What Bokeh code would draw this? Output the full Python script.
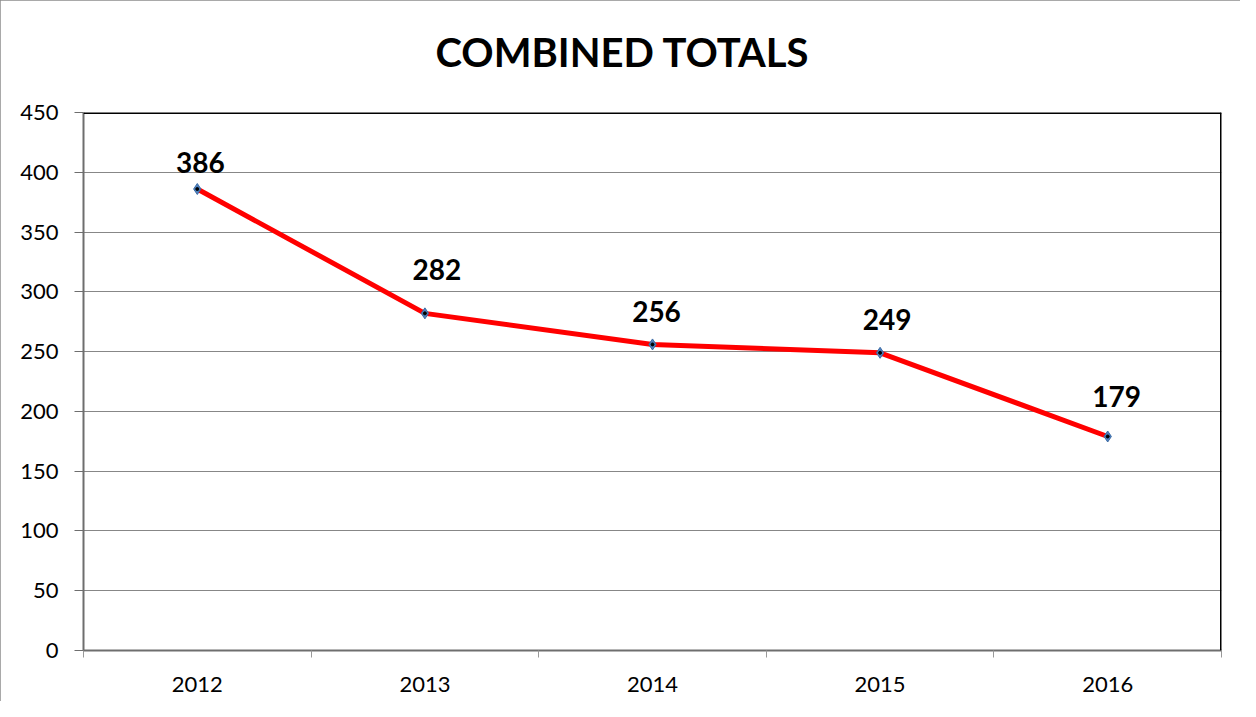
from bokeh.plotting import figure
from bokeh.models import FixedTicker, Span, Title, ColumnDataSource, Range1d
from bokeh.core.properties import value
from bokeh.embed import file_html
from bokeh.resources import INLINE

# ---- data ----
years = ["2012", "2013", "2014", "2015", "2016"]
totals = [386, 282, 256, 249, 179]
y_ticks = [0, 50, 100, 150, 200, 250, 300, 350, 400, 450]
title_text = "COMBINED TOTALS"

# ---- style ----
label_dx = [3, 12, 4, 7, 9]
label_dy = [-27, -44, -33, -33, -40]
FONT = "Lato"
GRID = "#878787"
AXIS = "#6e6e6e"

xs = [i + 0.5 for i in range(len(years))]
src = ColumnDataSource(dict(x=xs, y=totals, lab=[str(v) for v in totals],
                            dx=label_dx, dy=label_dy))

p = figure(width=1240, height=701, output_backend="svg", toolbar_location=None,
           x_range=Range1d(0, len(years)), y_range=Range1d(0, 450),
           min_border_left=83, min_border_right=19, min_border_top=112,
           min_border_bottom=51)
p.outline_line_color = None
p.background_fill_color = "white"
p.border_fill_color = "white"
p.styles = {"outline": "2px solid #8c8c8c", "outline-offset": "-2px"}

p.title = Title(text=title_text, align="left", offset=352, vertical_align="bottom",
                standoff=10, text_font=FONT, text_font_style="bold",
                text_font_size="40px", text_color="black")
# empty spacer between the title and the plot frame
p.add_layout(Title(text=" ", text_font_size="1px", standoff=29), "above")

# grid
p.xgrid.grid_line_color = None
p.ygrid.grid_line_color = GRID
p.ygrid.grid_line_width = 1
p.ygrid.ticker = FixedTicker(ticks=y_ticks)

# y axis
p.yaxis.ticker = FixedTicker(ticks=y_ticks)
p.yaxis.axis_line_color = AXIS
p.yaxis.axis_line_width = 2
p.yaxis.major_tick_line_color = AXIS
p.yaxis.major_tick_out = 9
p.yaxis.major_tick_in = 0
p.yaxis.minor_tick_line_color = None
p.yaxis.major_label_standoff = 16
p.yaxis.major_label_text_font = FONT
p.yaxis.major_label_text_font_size = "22px"
p.yaxis.major_label_text_color = "black"

# x axis
p.xaxis.ticker = FixedTicker(ticks=xs, minor_ticks=list(range(len(years) + 1)))
p.xaxis.major_label_overrides = {x: y for x, y in zip(xs, years)}
p.xaxis.axis_line_color = AXIS
p.xaxis.axis_line_width = 2
p.xaxis.major_tick_line_color = None
p.xaxis.major_tick_out = 0
p.xaxis.major_tick_in = 0
p.xaxis.minor_tick_line_color = "#999999"
p.xaxis.minor_tick_out = 7
p.xaxis.minor_tick_in = 0
p.xaxis.major_label_standoff = 19
p.xaxis.major_label_text_font = FONT
p.xaxis.major_label_text_font_size = "22px"
p.xaxis.major_label_text_color = "black"

# top / right frame border
p.add_layout(Span(location=450, dimension="width", line_color="black", line_width=3))
p.add_layout(Span(location=len(years), dimension="height", line_color="black", line_width=3))

# series
p.line("x", "y", source=src, line_color="#ff0000", line_width=5)
p.scatter("x", "y", source=src, marker="diamond", size=11,
          fill_color="#4f81bd", line_color="#3a6aa5")
p.scatter("x", "y", source=src, marker="circle", size=3,
          fill_color="black", line_color="black")

p.text("x", "y", text="lab", source=src, x_offset="dx", y_offset="dy",
       text_align="center", text_baseline="alphabetic",
       text_font=value(FONT), text_font_style="bold", text_font_size="28px",
       text_color="black")

open("out.html", "w").write(file_html(p, INLINE))
